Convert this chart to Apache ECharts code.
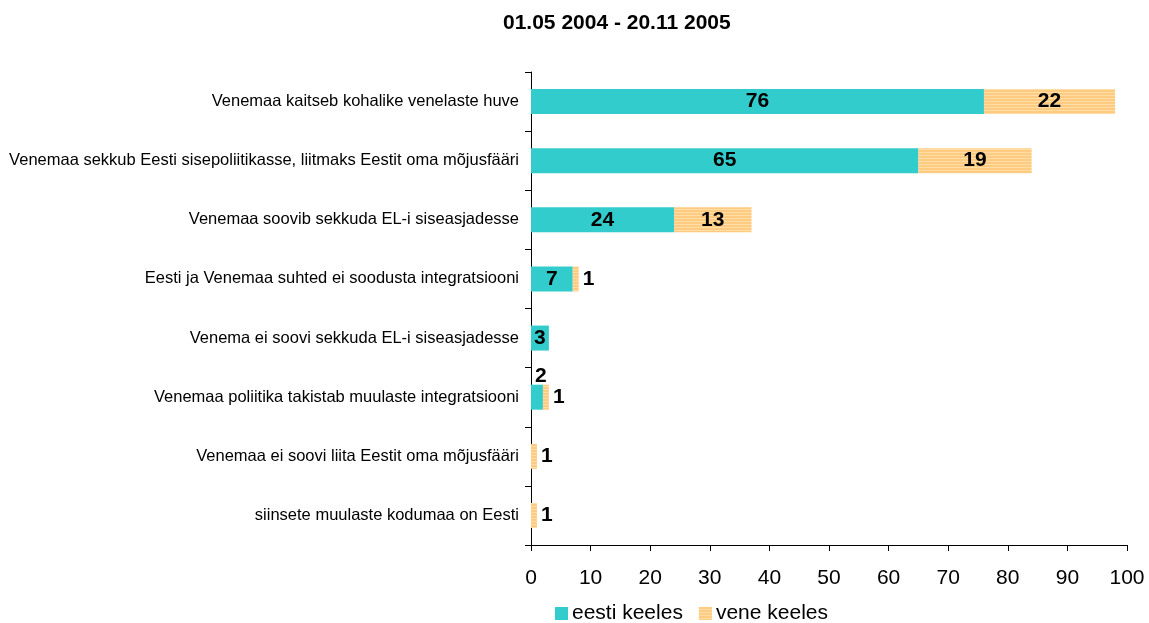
<!DOCTYPE html>
<html>
<head>
<meta charset="utf-8">
<script src="https://cdn.jsdelivr.net/npm/echarts@6/dist/echarts.min.js"></script>
<style>
html,body{margin:0;padding:0;background:#fff;}
#chart{width:1149px;height:623px;}
</style>
</head>
<body>
<div id="chart"></div>
<script>
// Statements, top to bottom
const categories = [
  'Venemaa kaitseb kohalike venelaste huve',
  'Venemaa sekkub Eesti sisepoliitikasse, liitmaks Eestit oma mõjusfääri',
  'Venemaa soovib sekkuda EL-i siseasjadesse',
  'Eesti ja Venemaa suhted ei soodusta integratsiooni',
  'Venema ei soovi sekkuda EL-i siseasjadesse',
  'Venemaa poliitika takistab muulaste integratsiooni',
  'Venemaa ei soovi liita Eestit oma mõjusfääri',
  'siinsete muulaste kodumaa on Eesti'
];
const eestiKeeles = [76, 65, 24, 7, 3, 2, 0, 0];
const veneKeeles = [22, 19, 13, 1, 0, 1, 1, 1];
const xTicks = [0, 10, 20, 30, 40, 50, 60, 70, 80, 90, 100];

const FONT = '"Liberation Sans", Arial, sans-serif';

// striped fill for the second series
function stripePattern() {
  const c = document.createElement('canvas');
  c.width = 4; c.height = 3;
  const g = c.getContext('2d');
  g.fillStyle = '#FFCB80';
  g.fillRect(0, 0, 4, 3);
  g.fillStyle = '#FFDDA6';
  g.fillRect(0, 2, 4, 1);
  return { image: c, repeat: 'repeat' };
}
const orange = stripePattern();

const labelBase = { fontFamily: FONT, fontSize: 21, fontWeight: 'bold', color: '#000' };

const eestiData = eestiKeeles.map(v => {
  if (v === 0) return { value: v, label: { show: false } };
  if (v < 3) return { value: v, label: { show: true, position: 'top', offset: [4, 7] } };
  return { value: v, label: { show: true, position: 'inside' } };
});
const veneData = veneKeeles.map(v => {
  if (v === 0) return { value: v, label: { show: false } };
  if (v < 3) return { value: v, label: { show: true, position: 'right', distance: 4 } };
  return { value: v, label: { show: true, position: 'inside' } };
});

const chart = echarts.init(document.getElementById('chart'), null, { renderer: 'canvas' });
chart.setOption({
  animation: false,
  backgroundColor: '#fff',
  title: {
    text: '01.05 2004 - 20.11 2005',
    left: 498, top: 8,
    textStyle: { fontFamily: FONT, fontSize: 21, fontWeight: 'bold', color: '#000' }
  },
  legend: {
    top: 598, left: 550,
    itemWidth: 13, itemHeight: 13, itemGap: 16,
    icon: 'rect',
    textStyle: { fontFamily: FONT, fontSize: 21, color: '#000', padding: [0, 0, 0, -1] },
    data: ['eesti keeles', 'vene keeles']
  },
  grid: { left: 531, right: 22, top: 72, bottom: 78, containLabel: false },
  xAxis: {
    type: 'value', min: 0, max: 100, interval: 10,
    axisLine: { show: true, lineStyle: { color: '#000', width: 1 } },
    axisTick: { show: true, length: 6, lineStyle: { color: '#000' } },
    splitLine: { show: false },
    axisLabel: {
      fontFamily: FONT, fontSize: 21, color: '#000', margin: 23,
      formatter: v => xTicks.includes(v) ? String(v) : ''
    }
  },
  yAxis: {
    type: 'category', data: categories, inverse: true,
    axisLine: { show: true, lineStyle: { color: '#000', width: 1 } },
    axisTick: { show: true, length: 6, lineStyle: { color: '#000' } },
    axisLabel: { fontFamily: FONT, fontSize: 16.5, color: '#000', margin: 12 }
  },
  series: [
    {
      name: 'eesti keeles', type: 'bar', stack: 'total',
      barWidth: 25,
      itemStyle: { color: '#33CCCC' },
      label: labelBase,
      data: eestiData
    },
    {
      name: 'vene keeles', type: 'bar', stack: 'total',
      barWidth: 25,
      itemStyle: { color: orange },
      label: labelBase,
      data: veneData
    }
  ]
});
</script>
</body>
</html>
